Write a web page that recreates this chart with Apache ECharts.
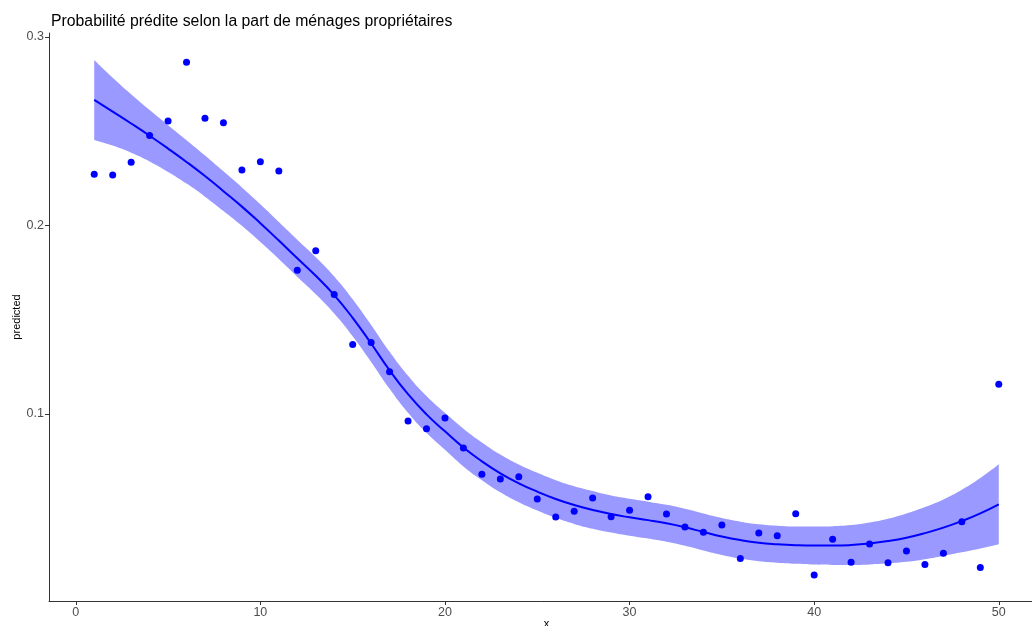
<!DOCTYPE html>
<html>
<head>
<meta charset="utf-8">
<script src="https://cdn.jsdelivr.net/npm/echarts@6/dist/echarts.min.js"></script>
<style>
html,body{margin:0;padding:0;background:#fff;}
#chart{width:1032px;height:626px;}
</style>
</head>
<body>
<div id="chart"></div>
<script>
const titleText = "Probabilité prédite selon la part de ménages propriétaires";
const xValues = [1,2,3,4,5,6,7,8,9,10,11,12,13,14,15,16,17,18,19,20,21,22,23,24,25,26,27,28,29,30,31,32,33,34,35,36,37,38,39,40,41,42,43,44,45,46,47,48,49,50];
const predicted = [0.2272,0.2268,0.2335,0.2477,0.2554,0.2866,0.2569,0.2545,0.2294,0.2338,0.2289,0.1763,0.1866,0.1634,0.1368,0.1379,0.1224,0.0963,0.0922,0.0979,0.0819,0.0681,0.0655,0.0667,0.0549,0.0454,0.0484,0.0554,0.0455,0.0490,0.0561,0.0470,0.0401,0.0373,0.0411,0.0233,0.0369,0.0354,0.0471,0.0146,0.0336,0.0214,0.0310,0.0211,0.0273,0.0202,0.0261,0.0428,0.0186,0.1158];
const fitValues = [0.2666,0.2604,0.2541,0.2476,0.2408,0.2337,0.2262,0.2182,0.2100,0.2012,0.1920,0.1826,0.1733,0.1631,0.1510,0.1374,0.1232,0.1105,0.0998,0.0908,0.0822,0.0749,0.0685,0.0632,0.0588,0.0549,0.0517,0.0491,0.0469,0.0452,0.0437,0.0420,0.0399,0.0374,0.0350,0.0331,0.0317,0.0309,0.0304,0.0302,0.0302,0.0305,0.0313,0.0326,0.0344,0.0368,0.0397,0.0432,0.0473,0.0521];
const lowerValues = [0.2454,0.2424,0.2386,0.2340,0.2284,0.2222,0.2153,0.2077,0.1998,0.1912,0.1822,0.1728,0.1635,0.1533,0.1412,0.1276,0.1134,0.1007,0.0900,0.0810,0.0722,0.0649,0.0585,0.0532,0.0488,0.0449,0.0417,0.0391,0.0371,0.0354,0.0339,0.0322,0.0301,0.0276,0.0252,0.0233,0.0219,0.0211,0.0205,0.0201,0.0199,0.0199,0.0202,0.0208,0.0216,0.0230,0.0247,0.0266,0.0286,0.0309];
const upperValues = [0.2878,0.2784,0.2696,0.2612,0.2532,0.2452,0.2371,0.2287,0.2202,0.2112,0.2018,0.1924,0.1831,0.1729,0.1608,0.1472,0.1330,0.1203,0.1096,0.1006,0.0922,0.0849,0.0785,0.0732,0.0688,0.0649,0.0617,0.0591,0.0567,0.0550,0.0535,0.0518,0.0497,0.0472,0.0448,0.0429,0.0415,0.0407,0.0403,0.0403,0.0405,0.0411,0.0424,0.0444,0.0472,0.0506,0.0547,0.0598,0.0660,0.0733];
const xTicks = [0,10,20,30,40,50];
const yTicks = [0.1,0.2,0.3];
const xName = "x";
const yName = "predicted";

const FONT = "Liberation Sans, Arial, Helvetica, sans-serif";
const chart = echarts.init(document.getElementById('chart'), null, {renderer:'canvas'});

const pts = xValues.map((x,i)=>[x, predicted[i]]);
const fitPts = xValues.map((x,i)=>[x, fitValues[i]]);
// band: [y, x] pairs so that the stacked dimension is y
const lowYX = xValues.map((x,i)=>[lowerValues[i], x]);
const spanYX = xValues.map((x,i)=>[upperValues[i]-lowerValues[i], x]);

const axisLineStyle = {color:'#333333', width:1};

chart.setOption({
  animation:false,
  backgroundColor:'#ffffff',
  title:{
    text:titleText, left:46, top:9,
    textStyle:{fontFamily:FONT, fontSize:15.8, fontWeight:'normal', color:'#000000'}
  },
  grid:{left:49, top:33, width:995, height:568, containLabel:false, outerBoundsMode:'none'},
  xAxis:{
    type:'value', min:-1.45, max:52.45, z:10,
    name:xName, nameLocation:'middle', nameGap:17, nameMoveOverlap:false,
    nameTextStyle:{fontFamily:FONT, fontSize:11, color:'#000000'},
    axisLine:{show:true, onZero:false, lineStyle:axisLineStyle},
    axisTick:{show:true, length:4, customValues:xTicks, lineStyle:axisLineStyle},
    axisLabel:{customValues:xTicks, margin:5, fontFamily:FONT, fontSize:12.5, color:'#4d4d4d'},
    splitLine:{show:false}
  },
  yAxis:{
    type:'value', min:0.0008, max:0.3021, z:10,
    name:yName, nameLocation:'middle', nameGap:27, nameRotate:90, nameMoveOverlap:false,
    nameTextStyle:{fontFamily:FONT, fontSize:11, color:'#000000'},
    axisLine:{show:true, onZero:false, lineStyle:axisLineStyle},
    axisTick:{show:true, length:4, customValues:yTicks, lineStyle:axisLineStyle},
    axisLabel:{customValues:yTicks, margin:5, fontFamily:FONT, fontSize:12.5, color:'#4d4d4d',
      formatter:(v)=>(Math.round(v*10)/10).toFixed(1)},
    splitLine:{show:false}
  },
  series:[
    {
      type:'line', data:lowYX, encode:{x:1, y:0}, stack:'band', smooth:true,
      symbol:'none', lineStyle:{opacity:0}, silent:true, z:1
    },
    {
      type:'line', data:spanYX, encode:{x:1, y:0}, stack:'band', smooth:true,
      symbol:'none', lineStyle:{opacity:0},
      areaStyle:{color:'#9999ff', opacity:1}, silent:true, z:1
    },
    {
      type:'line', data:fitPts, smooth:true,
      symbol:'none', lineStyle:{color:'#0000ff', width:2}, z:3
    },
    {
      type:'scatter', data:pts, symbol:'circle', symbolSize:7,
      itemStyle:{color:'#0000ff', opacity:1}, z:4
    }
  ]
});
</script>
</body>
</html>
